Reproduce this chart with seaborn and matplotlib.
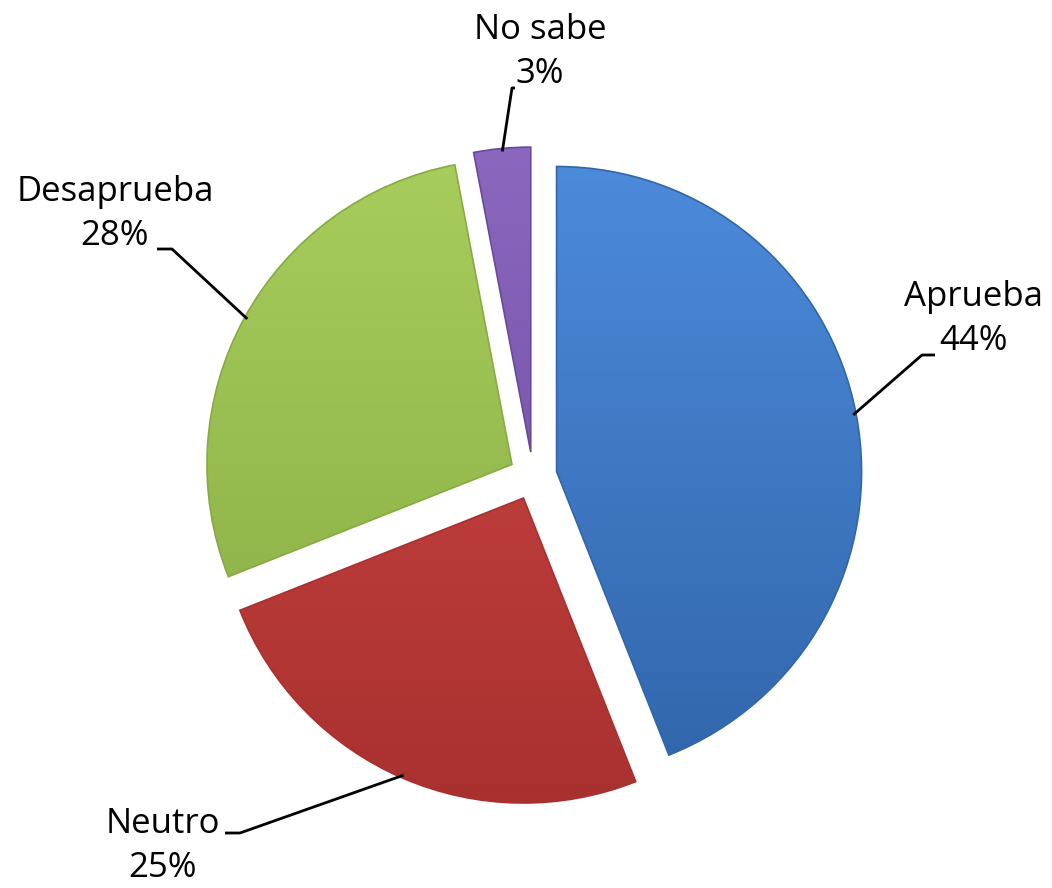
import numpy as np
import matplotlib.pyplot as plt
import matplotlib.colors as mcolors
import seaborn as sns

# ── Data ───────────────────────────────────────────────────────────────────────
labels = ["Aprueba", "Neutro", "Desaprueba", "No sabe"]
values = [44, 25, 28, 3]
pct_labels = ["44%", "25%", "28%", "3%"]

top_colors = ["#4C8ADA", "#D04745", "#A8CD5C", "#8B68BE"]
bottom_colors = ["#3166AB", "#A8312F", "#87AB43", "#6A499C"]

# label block centre and leader elbow / end (pixel coords, y from top)
label_pos = [(974, 319), (163, 846), (115, 214), (540, 52)]
leader_elbow = [(922, 355), (240, 833), (172, 249), (512, 88)]
leader_end = [(935, 355), (225, 833), (157, 249), (515, 88)]

W, H = 1052, 888

sns.set_theme(style="white")
plt.rcParams["font.family"] = ["Open Sans", "DejaVu Sans"]

fig = plt.figure(figsize=(W / 100, H / 100), dpi=100)
ax = fig.add_axes([0, 0, 1, 1])

cx, cy, R, expl = 533, H - 476, 305, 24
wedges, _ = ax.pie(values, startangle=90, counterclock=False, radius=R,
                   center=(cx, cy), explode=[expl] * len(values),
                   colors=top_colors, wedgeprops=dict(linewidth=0))
ax.set_xlim(0, W)
ax.set_ylim(0, H)
ax.set_aspect("equal")
ax.axis("off")

# vertical gradient clipped to each wedge
grad = np.linspace(0, 1, 256).reshape(-1, 1)
for w, c1, c2 in zip(wedges, top_colors, bottom_colors):
    cmap = mcolors.LinearSegmentedColormap.from_list("g", [c2, c1])
    wx, wy = w.center
    im = ax.imshow(grad, cmap=cmap, origin="lower", aspect="auto",
                   extent=(wx - R, wx + R, wy - R, wy + R), zorder=2)
    im.set_clip_path(w)
    w.set_edgecolor(c2)
    w.set_linewidth(1.2)
    w.set_zorder(3)
    w.set_facecolor("none")

# labels with leader lines
for w, lab, pct, (tx, ty), (ex, ey), (lx, ly) in zip(
        wedges, labels, pct_labels, label_pos, leader_elbow, leader_end):
    wx, wy = w.center
    mid = np.deg2rad((w.theta1 + w.theta2) / 2)
    sx, sy = wx + (R - 3) * np.cos(mid), wy + (R - 3) * np.sin(mid)
    ax.plot([sx, ex, lx], [sy, H - ey, H - ly], color="black", lw=2,
            solid_capstyle="butt", zorder=4)
    ax.text(tx, H - ty, f"{lab}\n{pct}", ha="center", va="center",
            multialignment="center", fontsize=25, linespacing=1.4,
            color="black", zorder=5)

plt.savefig("out.png", dpi=100)
